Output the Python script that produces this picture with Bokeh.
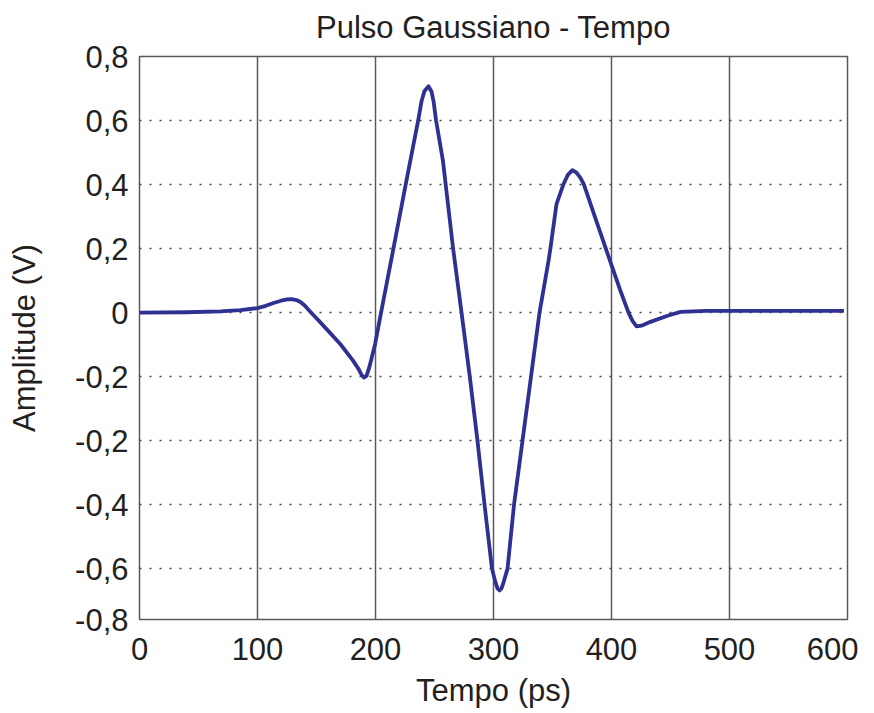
from bokeh.plotting import figure
from bokeh.models import Range1d, FixedTicker, Title
from bokeh.embed import file_html
from bokeh.resources import INLINE

# ---- data ----
tempo_ps = [0, 40, 68.6, 85.6, 100, 107, 113.6, 120, 125, 129, 133, 136.4, 140, 144.9, 150,
            157.6, 170.3, 180.5, 185.6, 188.1, 190.1, 192.4, 194.9, 199.7, 204.7, 209.9,
            215.3, 225.7, 236.2, 239.0, 241.5, 244.9, 247.5, 249.2, 251.3, 257.2, 265.7,
            272.9, 279.9, 286.4, 292.4, 298.7, 301.7, 303.4, 305.1, 306.8, 308.5, 311.9,
            317.4, 324.6, 331.8, 339.0, 346.6, 348.3, 353.4, 359.3, 363.0, 366.9, 370.3,
            373.7, 376.5, 387.7, 399.2, 407.6, 414.4, 417.8, 421.2, 425.4, 433.0, 447.5,
            458.5, 480, 520, 560, 597]
amplitude_v = [0.000, 0.001, 0.004, 0.0075, 0.014, 0.021, 0.030, 0.037, 0.041, 0.042, 0.039,
               0.033, 0.022, 0.002, -0.018, -0.048, -0.099, -0.148, -0.176, -0.194, -0.203,
               -0.198, -0.169, -0.098, 0.000, 0.099, 0.202, 0.402, 0.601, 0.660, 0.692, 0.707,
               0.690, 0.660, 0.601, 0.473, 0.202, 0.000, -0.200, -0.400, -0.600, -0.800,
               -0.843, -0.862, -0.868, -0.862, -0.843, -0.800, -0.600, -0.400, -0.200, 0.000,
               0.161, 0.202, 0.339, 0.401, 0.430, 0.445, 0.437, 0.421, 0.401, 0.280, 0.157,
               0.068, 0.000, -0.026, -0.043, -0.041, -0.029, -0.010, 0.002, 0.005, 0.005,
               0.005, 0.005]

x_ticks = [0, 100, 200, 300, 400, 500, 600]
y_tick_pos = [0.8, 0.6, 0.4, 0.2, 0.0, -0.2, -0.4, -0.6, -0.8, -0.959]
y_tick_labels = ["0,8", "0,6", "0,4", "0,2", "0", "-0,2", "-0,2", "-0,4", "-0,6", "-0,8"]
y_grid_pos = [0.6, 0.4, 0.2, 0.0, -0.2, -0.4, -0.6, -0.8]
x_grid_pos = [100, 200, 300, 400, 500]
title_text = "Pulso Gaussiano - Tempo"

FONT = "Liberation Sans"
TXT = "#231f20"
FS = "31px"

p = figure(width=858, height=710, output_backend="svg", toolbar_location=None,
           x_range=Range1d(0, 600), y_range=Range1d(-0.959, 0.8),
           min_border_left=139, min_border_right=11, min_border_top=55, min_border_bottom=91)
p.title = Title(text=title_text, align="center", vertical_align="top", text_font=FONT,
                text_font_size=FS, text_font_style="normal", text_color=TXT, offset=0)
p.title.standoff = 19

p.outline_line_color = "#5a5a5a"
p.outline_line_width = 1.5
p.outline_line_alpha = 1.0

for ax in (p.xaxis[0], p.yaxis[0]):
    ax.axis_line_color = None
    ax.major_tick_line_color = None
    ax.minor_tick_line_color = None
    ax.major_label_text_font = FONT
    ax.major_label_text_font_size = FS
    ax.major_label_text_color = TXT
    ax.axis_label_text_font = FONT
    ax.axis_label_text_font_size = FS
    ax.axis_label_text_font_style = "normal"
    ax.axis_label_text_color = TXT

p.xaxis.ticker = FixedTicker(ticks=x_ticks)
p.xaxis.major_label_standoff = 12
p.xaxis.axis_label = "Tempo (ps)"
p.xaxis.axis_label_standoff = 10

p.yaxis.ticker = FixedTicker(ticks=y_tick_pos)
p.yaxis.major_label_overrides = {v: s for v, s in zip(y_tick_pos, y_tick_labels)}
p.yaxis.major_label_standoff = 5
p.yaxis.axis_label = "Amplitude (V)"
p.yaxis.axis_label_standoff = 30

p.xgrid.ticker = FixedTicker(ticks=x_grid_pos)
p.xgrid.grid_line_color = "#5a5a5a"
p.xgrid.grid_line_width = 1.5
p.xgrid.grid_line_alpha = 1.0

p.ygrid.ticker = FixedTicker(ticks=y_grid_pos)
p.ygrid.grid_line_color = "#444444"
p.ygrid.grid_line_width = 1.6
p.ygrid.grid_line_dash = "2 8"
p.ygrid.grid_line_alpha = 1.0

p.line(tempo_ps, amplitude_v, line_color="#2e3192", line_width=3.8, line_join="round")

open("out.html", "w").write(file_html(p, INLINE))
